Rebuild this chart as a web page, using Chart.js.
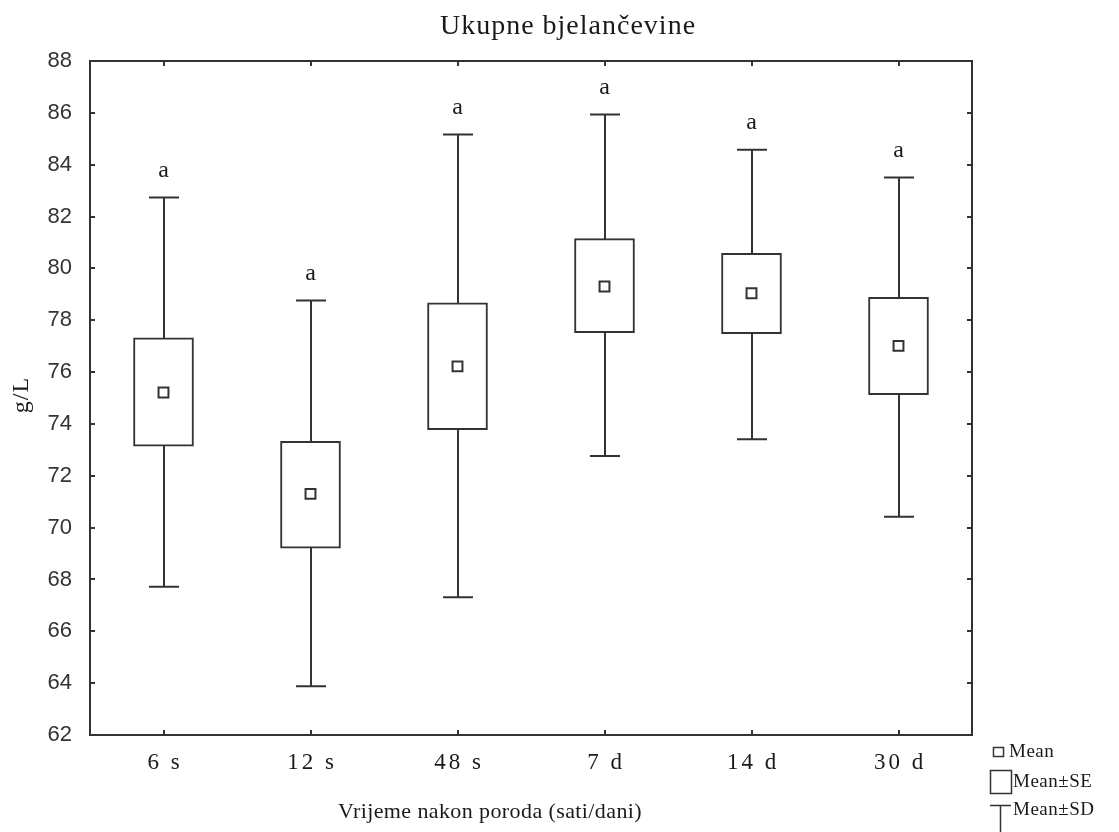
<!DOCTYPE html>
<html>
<head>
<meta charset="utf-8">
<script src="https://cdn.jsdelivr.net/npm/chart.js@4.4.0/dist/chart.umd.min.js"></script>
<style>
  html, body { margin: 0; padding: 0; background: #fff; }
</style>
</head>
<body>
<canvas id="myChart" width="1119" height="832"></canvas>
<script>
// values (g/L)
const categories = ['6 s', '12 s', '48 s', '7 d', '14 d', '30 d'];
const means  = [75.21, 71.30, 76.22, 79.30, 79.04, 77.01];
const seLow  = [73.14, 69.21, 73.78, 77.52, 77.48, 75.13];
const seHigh = [77.32, 73.33, 78.67, 81.15, 80.58, 78.88];
const sdLow  = [67.72, 63.88, 67.31, 72.76, 73.41, 70.42];
const sdHigh = [82.73, 78.76, 85.16, 85.94, 84.58, 83.51];
const letters = ['a', 'a', 'a', 'a', 'a', 'a'];

const ink = '#333';
const textInk = '#1a1a1a';
const serif = '"Liberation Serif", "Times New Roman", serif';

// frame, inward ticks, whiskers and all the loose text
const statPlugin = {
  id: 'statPlugin',
  beforeDatasetsDraw(chart) {
    const { ctx, scales: { x, y } } = chart;
    ctx.save();
    ctx.strokeStyle = ink;
    ctx.lineWidth = 2;
    categories.forEach((c, i) => {
      const px = Math.round(x.getPixelForValue(i));
      const top = y.getPixelForValue(sdHigh[i]);
      const bot = y.getPixelForValue(sdLow[i]);
      ctx.beginPath();
      ctx.moveTo(px, top); ctx.lineTo(px, bot);
      ctx.moveTo(px - 15, top); ctx.lineTo(px + 15, top);
      ctx.moveTo(px - 15, bot); ctx.lineTo(px + 15, bot);
      ctx.stroke();
    });
    ctx.restore();
  },
  afterDatasetsDraw(chart) {
    const { ctx, chartArea: a, scales: { x, y } } = chart;
    ctx.save();
    ctx.strokeStyle = ink;
    ctx.lineWidth = 2;
    ctx.strokeRect(a.left, a.top, a.right - a.left, a.bottom - a.top);

    ctx.beginPath();
    y.ticks.forEach(t => {
      const py = Math.round(y.getPixelForValue(t.value));
      ctx.moveTo(a.left, py); ctx.lineTo(a.left + 5, py);
      ctx.moveTo(a.right - 5, py); ctx.lineTo(a.right, py);
    });
    categories.forEach((c, i) => {
      const px = Math.round(x.getPixelForValue(i));
      ctx.moveTo(px, a.top); ctx.lineTo(px, a.top + 5);
      ctx.moveTo(px, a.bottom - 5); ctx.lineTo(px, a.bottom);
    });
    ctx.stroke();

    ctx.fillStyle = textInk;
    ctx.textAlign = 'center';
    ctx.textBaseline = 'middle';

    // significance letters above the SD whiskers
    ctx.font = '24px ' + serif;
    letters.forEach((l, i) => {
      ctx.fillText(l, x.getPixelForValue(i), y.getPixelForValue(sdHigh[i]) - 27);
    });

    // category labels
    ctx.font = '23px ' + serif;
    ctx.letterSpacing = '3px';
    categories.forEach((c, i) => {
      ctx.fillText(c, x.getPixelForValue(i) + 1.5, a.bottom + 28);
    });

    // titles
    ctx.letterSpacing = '1px';
    ctx.font = '28px ' + serif;
    ctx.fillText('Ukupne bjelančevine', 568, 27);
    ctx.letterSpacing = '0.4px';
    ctx.font = '22px ' + serif;
    ctx.fillText('Vrijeme nakon poroda (sati/dani)', 490, 812);

    ctx.save();
    ctx.translate(22, 395);
    ctx.rotate(-Math.PI / 2);
    ctx.font = '24px ' + serif;
    ctx.letterSpacing = '1px';
    ctx.fillText('g/L', 0, 0);
    ctx.restore();

    // legend
    ctx.letterSpacing = '0.5px';
    ctx.textAlign = 'left';
    ctx.font = '19px ' + serif;
    ctx.lineWidth = 1.5;
    ctx.strokeRect(993.5, 747.5, 10, 9);
    ctx.fillText('Mean', 1009, 752);
    ctx.strokeRect(990.5, 770.5, 21, 23);
    ctx.fillText('Mean±SE', 1013, 782);
    ctx.beginPath();
    ctx.moveTo(990, 805.5); ctx.lineTo(1011, 805.5);
    ctx.moveTo(1000.5, 805); ctx.lineTo(1000.5, 832);
    ctx.stroke();
    ctx.fillText('Mean±SD', 1013, 810);
    ctx.restore();
  }
};

const ctx = document.getElementById('myChart').getContext('2d');
new Chart(ctx, {
  data: {
    labels: categories,
    datasets: [
      {
        type: 'line',
        label: 'Mean',
        data: means,
        showLine: false,
        pointStyle: 'rect',
        pointRadius: 7,
        pointHoverRadius: 7,
        pointBorderWidth: 2,
        pointBackgroundColor: '#fff',
        pointBorderColor: ink,
        order: 0,
      },
      {
        type: 'bar',
        label: 'Mean±SE',
        data: seLow.map((lo, i) => [lo, seHigh[i]]),
        backgroundColor: '#fff',
        borderColor: ink,
        borderWidth: 2,
        borderSkipped: false,
        barThickness: 60,
        order: 1,
      },
    ],
  },
  options: {
    responsive: false,
    animation: false,
    devicePixelRatio: 1,
    layout: { padding: { left: 0, right: 147, top: 61, bottom: 0 } },
    plugins: {
      legend: { display: false },
      tooltip: { enabled: false },
      title: { display: false },
    },
    scales: {
      x: {
        offset: true,
        grid: { display: false, drawTicks: false },
        border: { display: false },
        ticks: { display: false },
        afterFit: s => { s.height = 97; },
      },
      y: {
        min: 62,
        max: 88,
        ticks: {
          stepSize: 2,
          padding: 18,
          color: '#333',
          font: { family: '"Liberation Sans", Arial, sans-serif', size: 22 },
        },
        grid: { display: false, drawTicks: false },
        border: { display: false },
        afterFit: s => { s.width = 90; },
      },
    },
  },
  plugins: [statPlugin],
});
</script>
</body>
</html>
